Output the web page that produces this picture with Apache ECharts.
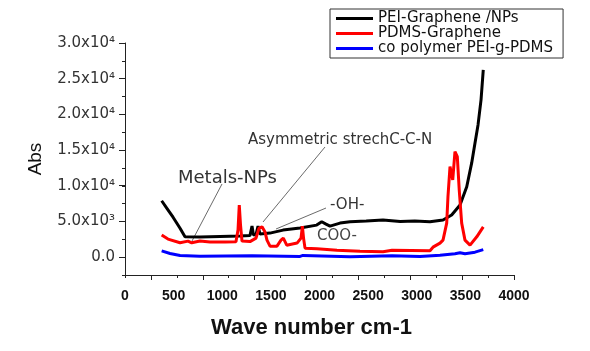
<!DOCTYPE html>
<html>
<head>
<meta charset="utf-8">
<script src="https://cdn.jsdelivr.net/npm/echarts@6/dist/echarts.min.js"></script>
<style>
  html, body { margin: 0; padding: 0; background: #fff; }
  #main { width: 590px; height: 351px; }
</style>
</head>
<body>
<div id="main"></div>
<script>
// series names as in the legend
const seriesNames = ['PEI-Graphene /NPs', 'PDMS-Graphene', 'co polymer PEI-g-PDMS'];

// [wave number, abs]
const peiGrapheneNPs = [
  [377, 7900], [429, 6880], [494, 5600], [566, 4050], [617, 2850], [771, 2810],
  [977, 2880], [1183, 2950], [1285, 3020], [1306, 4350], [1321, 3090], [1347, 3160],
  [1368, 4350], [1388, 3230], [1491, 3370], [1625, 3790], [1800, 4070], [1971, 4490],
  [2023, 4960], [2067, 4630], [2108, 4350], [2211, 4770], [2314, 4960], [2480, 5050],
  [2653, 5200], [2830, 5000], [2980, 5050], [3136, 4960], [3270, 5200], [3359, 5900],
  [3445, 7300], [3514, 9870], [3565, 13200], [3599, 16000], [3630, 18530], [3661, 22040],
  [3684, 26250]
];
const pdmsGraphene = [
  [377, 3090], [442, 2530], [566, 2010], [648, 2250], [686, 2010], [771, 2250],
  [874, 2110], [1028, 2110], [1141, 2150], [1162, 3790], [1175, 7300], [1188, 4490],
  [1203, 2250], [1285, 2180], [1347, 2670], [1378, 4070], [1409, 4250], [1440, 3510],
  [1460, 2390], [1491, 1540], [1563, 1540], [1604, 2390], [1628, 2670], [1663, 1680],
  [1769, 1970], [1810, 2670], [1824, 4350], [1836, 2670], [1851, 1260], [1974, 1190],
  [2180, 980], [2417, 840], [2653, 770], [2746, 980], [2766, 770], [3136, 910],
  [3167, 1400], [3239, 1970], [3270, 2390], [3308, 4770], [3321, 8470], [3342, 12680],
  [3370, 10810], [3393, 14780], [3417, 14080], [3437, 9400], [3462, 4770], [3496, 2390],
  [3548, 1680], [3617, 2850], [3684, 4250]
];
const copolymerPEIgPDMS = [
  [377, 880], [463, 520], [566, 240], [771, 140], [1306, 210], [1800, 100],
  [1830, 240], [2314, 70], [2746, 210], [3033, 100], [3239, 280], [3393, 490],
  [3445, 630], [3496, 490], [3599, 700], [3684, 1050]
];

// tick labels
const xLabelStep = 500;
const yLabelValues = [0, 5000, 10000, 15000, 20000, 25000, 30000];
const yLabelText = ['0.0', '5.0x10³', '1.0x10⁴', '1.5x10⁴', '2.0x10⁴', '2.5x10⁴', '3.0x10⁴'];

const chart = echarts.init(document.getElementById('main'), null, { renderer: 'canvas' });

const axisColor = '#222';
const tickStyle = { color: axisColor, width: 1 };
const xStep = 4000 / 15;          // tick spacing of the x axis
const hidden = { show: false };
const lineOff = { show: false, onZero: false };

const option = {
  animation: false,
  backgroundColor: '#fff',
  grid: [
    { left: 125, right: 76, top: 43, bottom: 76 },            // main plot (y from -2500)
    { left: 125, right: 76, top: 43, bottom: 94 },            // major y ticks (y from 0)
    { left: 125 + 389 / 15, right: 76, top: 43, bottom: 76 }  // major x ticks
  ],
  legend: {
    data: seriesNames,
    orient: 'vertical',
    left: 330,
    top: 9,
    icon: 'rect',
    itemWidth: 37,
    itemHeight: 3,
    itemGap: 0,
    padding: [2, 10, 2, 6],
    borderColor: '#333',
    borderWidth: 1,
    textStyle: { fontFamily: 'DejaVu Sans', fontSize: 15, lineHeight: 14.5, color: '#111' }
  },
  xAxis: [
    {
      gridIndex: 0, type: 'value', min: 0, max: 4000, interval: xStep, position: 'bottom',
      axisLine: { show: true, onZero: false, lineStyle: { color: axisColor, width: 1 } },
      axisTick: { show: true, length: 3, lineStyle: tickStyle },
      axisLabel: hidden, splitLine: hidden,
      name: 'Wave number cm-1', nameLocation: 'middle', nameGap: 42,
      nameTextStyle: {
        fontFamily: 'Liberation Sans', fontWeight: 'bold', fontSize: 22, color: '#111',
        padding: [0, 16, 0, 0]
      }
    },
    {
      gridIndex: 0, type: 'value', min: 0, max: 4000, interval: xLabelStep, position: 'bottom',
      axisLine: lineOff, axisTick: hidden, splitLine: hidden,
      axisLabel: {
        margin: 14, fontFamily: 'Liberation Sans', fontWeight: 'bold', fontSize: 14, color: '#111',
        formatter: v => String(v)
      }
    },
    { gridIndex: 1, type: 'value', min: 0, max: 4000, show: false },
    {
      gridIndex: 2, type: 'value', min: 0, max: 4000 - xStep, interval: 2 * xStep, position: 'bottom',
      axisLine: lineOff, axisLabel: hidden, splitLine: hidden,
      axisTick: { show: true, length: 5, lineStyle: tickStyle }
    }
  ],
  yAxis: [
    {
      gridIndex: 0, type: 'value', min: -2500, max: 30000, interval: 2500, position: 'left',
      axisLine: { show: true, onZero: false, lineStyle: { color: axisColor, width: 1 } },
      axisTick: { show: true, length: 3, lineStyle: tickStyle },
      axisLabel: hidden, splitLine: hidden,
      name: 'Abs', nameLocation: 'middle', nameGap: 80, nameRotate: 90,
      nameTextStyle: { fontFamily: 'Liberation Sans', fontSize: 19, color: '#111' }
    },
    {
      gridIndex: 1, type: 'value', min: 0, max: 30000, interval: 5000, position: 'left',
      axisLine: lineOff, splitLine: hidden,
      axisTick: { show: true, length: 6, lineStyle: tickStyle },
      axisLabel: {
        margin: 10, fontFamily: 'DejaVu Sans', fontSize: 15, color: '#333',
        formatter: v => yLabelText[yLabelValues.indexOf(v)]
      }
    },
    { gridIndex: 2, type: 'value', min: 0, max: 1, show: false }
  ],
  series: [
    { name: seriesNames[0], data: peiGrapheneNPs, color: '#000000' },
    { name: seriesNames[1], data: pdmsGraphene, color: '#ff0000' },
    { name: seriesNames[2], data: copolymerPEIgPDMS, color: '#0000ff' }
  ].map(s => Object.assign({
    type: 'line', showSymbol: false, symbol: 'none', xAxisIndex: 0, yAxisIndex: 0,
    lineStyle: { width: 3, color: s.color }
  }, s)),
  graphic: [
    { type: 'text', left: 248, top: 133, style: { text: 'Asymmetric strechC-C-N', font: '15px "DejaVu Sans"', fill: '#333' } },
    { type: 'line', shape: { x1: 325, y1: 147, x2: 263, y2: 222 }, style: { stroke: '#444', lineWidth: 0.8 } },
    { type: 'text', left: 178, top: 169, style: { text: 'Metals-NPs', font: '18px "DejaVu Sans"', fill: '#333' } },
    { type: 'line', shape: { x1: 222, y1: 184, x2: 192, y2: 241 }, style: { stroke: '#444', lineWidth: 0.8 } },
    { type: 'text', left: 330, top: 198, style: { text: '-OH-', font: '15px "DejaVu Sans"', fill: '#333' } },
    { type: 'line', shape: { x1: 326, y1: 208, x2: 276, y2: 229 }, style: { stroke: '#444', lineWidth: 0.8 } },
    { type: 'text', left: 317, top: 229, style: { text: 'COO-', font: '15px "DejaVu Sans"', fill: '#444' } }
  ]
};

chart.setOption(option);
</script>
</body>
</html>
